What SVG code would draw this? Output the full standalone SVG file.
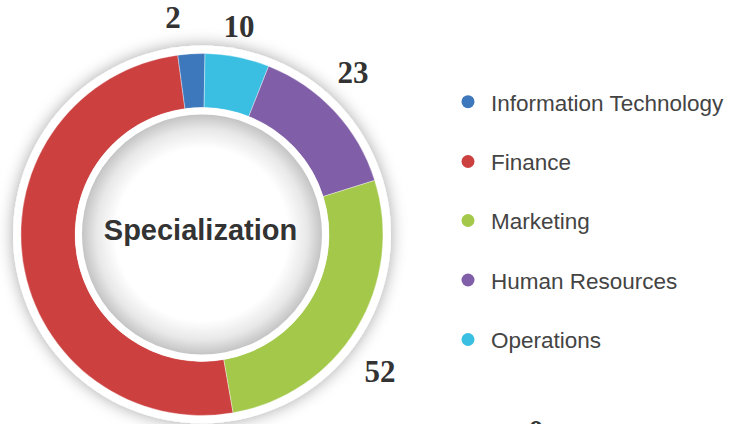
<svg xmlns="http://www.w3.org/2000/svg" width="744" height="424" viewBox="0 0 744 424">
<defs>
<filter id="shadow" x="-30%" y="-30%" width="160%" height="160%">
<feDropShadow dx="0" dy="0" stdDeviation="8" flood-color="#000" flood-opacity="0.35"/>
</filter>
<radialGradient id="hole" cx="0.5" cy="0.5" r="0.5">
<stop offset="0" stop-color="#ffffff"/>
<stop offset="0.72" stop-color="#ffffff"/>
<stop offset="0.88" stop-color="#e8e8e8"/>
<stop offset="1" stop-color="#c4c4c4"/>
</radialGradient>
<style>
.seg{stroke:#ffffff;stroke-width:0.6;stroke-opacity:0.6}
.val{font-family:"Liberation Serif","DejaVu Serif",serif;font-weight:bold;font-size:31px;fill:#333333;text-anchor:middle}
.leg{font-family:"Liberation Sans","DejaVu Sans",sans-serif;font-size:22.5px;fill:#444444}
.title{font-family:"Liberation Sans","DejaVu Sans",sans-serif;font-weight:bold;font-size:29px;fill:#333333;text-anchor:middle}
</style>
</defs>
<rect width="744" height="424" fill="#ffffff"/>
<g id="donut">
<circle cx="202" cy="234.5" r="189" fill="#ffffff" filter="url(#shadow)"/>
<g id="seg-finance"><path class="seg" fill="#cc4140" d="M 233.11 412.80 A 181 181 0 1 1 177.75 55.13 L 184.98 108.64 A 127 127 0 1 0 223.83 359.61 Z"/></g>
<g id="seg-it"><path class="seg" fill="#3d78bd" d="M 177.75 55.13 A 181 181 0 0 1 205.00 53.53 L 204.11 107.52 A 127 127 0 0 0 184.98 108.64 Z"/></g>
<g id="seg-operations"><path class="seg" fill="#3abfe3" d="M 205.00 53.53 A 181 181 0 0 1 268.63 66.21 L 248.75 116.42 A 127 127 0 0 0 204.11 107.52 Z"/></g>
<g id="seg-hr"><path class="seg" fill="#815fa8" d="M 268.63 66.21 A 181 181 0 0 1 374.71 180.38 L 323.18 196.53 A 127 127 0 0 0 248.75 116.42 Z"/></g>
<g id="seg-marketing"><path class="seg" fill="#a3c84a" d="M 374.71 180.38 A 181 181 0 0 1 233.11 412.80 L 223.83 359.61 A 127 127 0 0 0 323.18 196.53 Z"/></g>
<circle cx="202" cy="234.5" r="127" fill="#ffffff"/>
<circle cx="202" cy="234.5" r="120" fill="url(#hole)"/>
<g id="title"><text class="title" x="200.5" y="240">Specialization</text></g>
</g>
<g id="labels">
<text class="val" x="173" y="28">2</text>
<text class="val" x="239" y="37">10</text>
<text class="val" x="353" y="83">23</text>
<text class="val" x="380" y="382">52</text>
<text class="val" x="536" y="442">0</text>
</g>
<g id="legend">
<g id="leg-it"><circle cx="468" cy="101.7" r="6.5" fill="#3d78bd"/><text class="leg" x="491" y="110.5">Information Technology</text></g>
<g id="leg-finance"><circle cx="468" cy="161.5" r="6.5" fill="#cc4140"/><text class="leg" x="491" y="170">Finance</text></g>
<g id="leg-marketing"><circle cx="468" cy="220.5" r="6.5" fill="#a3c84a"/><text class="leg" x="491" y="229">Marketing</text></g>
<g id="leg-hr"><circle cx="468" cy="280" r="6.5" fill="#815fa8"/><text class="leg" x="491" y="288.5">Human Resources</text></g>
<g id="leg-operations"><circle cx="468" cy="339.5" r="6.5" fill="#3abfe3"/><text class="leg" x="491" y="348">Operations</text></g>
</g>
</svg>
